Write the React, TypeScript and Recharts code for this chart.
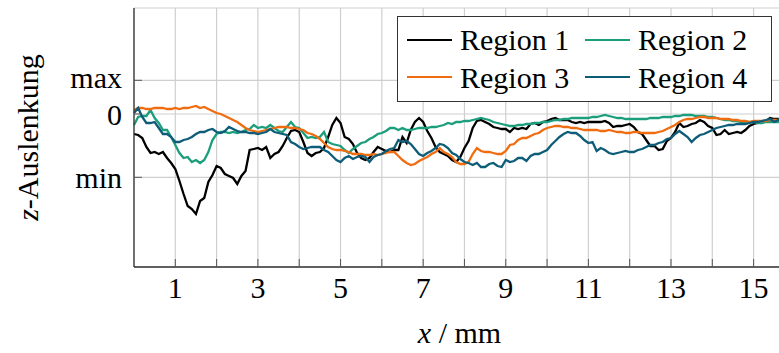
import React from "react";
import { LineChart, Line, XAxis, YAxis, CartesianGrid, Legend } from "recharts";

const FONT = "'Liberation Serif', 'Times New Roman', Tinos, 'DejaVu Serif', 'Noto Serif', FreeSerif, serif";

// x positions are sampled every 0.1 mm, starting at 0
const stepMm = 0.1;
const xTicks = [1, 2, 3, 4, 5, 6, 7, 8, 9, 10, 11, 12, 13, 14, 15];
const yTicks = [-6.33, 0, 3.37];

const region1 = [
  -2.0, -2.1, -2.4, -3.3, -3.9, -3.8, -4.0, -3.8, -4.4, -4.9,
  -5.5, -6.7, -8.0, -9.2, -9.5, -10.0, -8.7, -8.4, -6.8, -6.1,
  -5.2, -5.4, -6.0, -6.2, -6.4, -7.0, -6.2, -5.7, -3.6, -3.5,
  -3.4, -3.6, -3.3, -4.4, -4.0, -3.8, -3.2, -2.4, -1.7, -1.6,
  -1.8, -2.8, -3.9, -4.2, -3.9, -3.8, -3.4, -2.3, -1.1, -0.4,
  -0.9, -2.3, -2.5, -3.0, -3.9, -4.4, -4.6, -4.4, -3.8, -3.3,
  -3.5, -3.7, -3.8, -3.6, -3.6, -2.3, -2.9, -1.6, -0.8, -0.4,
  -0.8, -1.7, -2.4, -3.3, -3.8, -4.0, -4.2, -4.6, -4.8, -4.3,
  -3.4, -2.7, -1.4, -0.7, -0.6, -0.8, -1.0, -1.3, -1.4, -1.5,
  -1.5, -1.8, -1.4, -1.5, -1.4, -1.5, -1.0, -0.9, -1.1, -0.8,
  -0.7, -0.5, -0.4, -0.6, -0.6, -0.6, -0.8, -0.9, -0.8, -0.9,
  -0.8, -0.8, -0.8, -0.8, -0.7, -0.9, -1.3, -1.2, -1.2, -1.1,
  -1.0, -1.3, -1.8, -2.0, -2.6, -3.2, -3.2, -3.6, -3.5, -2.7,
  -2.4, -1.8, -0.9, -1.3, -1.2, -1.0, -0.9, -0.6, -0.8, -1.2,
  -1.4, -2.1, -2.0, -1.6, -2.0, -1.9, -1.8, -1.9, -1.6, -1.2,
  -1.0, -0.9, -0.8, -0.7, -0.4, -0.5, -0.5, -0.6,
];

const region2 = [
  -1.1, -0.3, -0.2, -0.2, 0.4, -0.4, -0.9, -1.6, -1.6, -2.3,
  -3.1, -3.9, -4.4, -4.3, -4.8, -4.6, -4.9, -4.6, -3.8, -2.6,
  -2.0, -1.8, -1.8, -1.9, -1.8, -1.9, -1.8, -1.6, -1.5, -1.1,
  -1.4, -1.3, -1.4, -1.1, -1.4, -1.7, -1.8, -1.3, -0.8, -1.3,
  -1.4, -1.9, -2.4, -2.3, -2.4, -2.3, -1.8, -2.8, -3.0, -3.1,
  -3.2, -3.6, -3.9, -3.5, -3.2, -2.9, -2.8, -2.5, -2.3, -2.0,
  -1.9, -1.7, -1.4, -1.4, -1.6, -1.4, -1.6, -1.6, -1.5, -1.4,
  -1.4, -1.4, -1.3, -1.3, -1.2, -1.1, -0.9, -1.0, -0.8, -0.8,
  -0.7, -0.7, -0.6, -0.5, -0.4, -0.5, -0.6, -0.8, -0.9, -1.0,
  -1.1, -1.2, -1.2, -1.1, -1.1, -1.0, -1.0, -0.9, -0.9, -0.8,
  -0.8, -0.7, -0.6, -0.6, -0.5, -0.5, -0.4, -0.4, -0.4, -0.4,
  -0.4, -0.3, -0.3, -0.2, -0.1, -0.2, -0.3, -0.4, -0.4, -0.5,
  -0.5, -0.5, -0.5, -0.5, -0.5, -0.4, -0.4, -0.4, -0.3, -0.3,
  -0.3, -0.2, -0.2, -0.1, -0.1, -0.1, -0.2, -0.2, -0.2, -0.3,
  -0.3, -0.4, -0.5, -0.6, -0.6, -0.7, -0.7, -0.8, -0.8, -0.8,
  -0.8, -0.9, -0.9, -0.8, -0.8, -0.8, -0.8, -0.8,
];

const region3 = [
  0.4, 0.6, 0.6, 0.5, 0.5, 0.6, 0.6, 0.6, 0.5, 0.5,
  0.6, 0.5, 0.6, 0.6, 0.7, 0.8, 0.6, 0.7, 0.5, 0.3,
  0.1, 0.0, -0.2, -0.4, -0.6, -0.8, -1.1, -1.4, -1.6, -1.7,
  -1.8, -1.7, -1.6, -1.5, -1.4, -1.3, -1.3, -1.3, -1.4, -1.4,
  -1.5, -1.6, -1.9, -2.0, -2.2, -2.5, -2.9, -3.3, -3.5, -3.6,
  -3.6, -3.7, -3.8, -4.0, -4.0, -4.0, -4.1, -4.1, -4.0, -4.1,
  -4.0, -3.9, -3.8, -3.8, -4.2, -4.6, -4.9, -5.1, -5.0, -4.7,
  -4.5, -4.3, -4.0, -3.8, -3.4, -3.8, -4.0, -4.3, -4.8, -5.0,
  -5.0, -4.8, -4.0, -3.4, -3.7, -3.8, -3.8, -3.9, -4.0, -4.0,
  -3.7, -3.1, -3.0, -2.6, -2.4, -2.4, -2.2, -2.0, -1.9, -1.6,
  -1.4, -1.3, -1.2, -1.2, -1.3, -1.3, -1.4, -1.4, -1.5, -1.6,
  -1.6, -1.6, -1.6, -1.7, -1.7, -1.6, -1.7, -1.8, -1.8, -1.9,
  -1.9, -1.8, -1.8, -1.9, -1.9, -1.9, -1.9, -1.8, -1.7, -1.5,
  -1.3, -1.1, -0.8, -0.6, -0.5, -0.5, -0.4, -0.3, -0.3, -0.4,
  -0.4, -0.4, -0.5, -0.5, -0.5, -0.6, -0.6, -0.7, -0.7, -0.8,
  -0.7, -0.7, -0.7, -0.7, -0.6, -0.6, -0.6, -0.6,
];

const region4 = [
  0.1, 0.6, -0.3, -0.9, -0.9, -0.8, -1.4, -2.0, -2.0, -2.3,
  -2.8, -2.8, -2.6, -2.5, -2.3, -2.0, -1.8, -1.8, -1.6, -1.5,
  -1.8, -1.9, -1.7, -1.3, -1.5, -1.7, -1.8, -1.8, -1.9, -1.9,
  -2.0, -1.9, -1.8, -1.5, -1.8, -1.9, -2.0, -2.1, -2.8, -3.0,
  -3.3, -3.5, -3.4, -3.3, -3.3, -3.3, -3.6, -3.8, -4.2, -4.6,
  -4.8, -4.4, -4.2, -4.5, -4.3, -4.2, -4.3, -4.8, -4.3, -4.1,
  -4.0, -3.7, -3.5, -3.4, -2.6, -2.8, -2.7, -3.0, -3.5, -4.0,
  -4.2, -3.9, -3.7, -3.4, -3.0, -3.1, -3.4, -3.9, -4.1, -4.5,
  -4.8, -4.9, -5.1, -4.9, -5.3, -5.3, -5.0, -4.9, -5.2, -5.3,
  -4.6, -4.8, -4.7, -4.4, -4.4, -4.7, -4.2, -4.0, -4.0, -3.8,
  -3.6, -3.1, -2.7, -2.3, -2.0, -1.8, -1.9, -1.9, -2.2, -2.6,
  -2.9, -2.8, -3.7, -3.4, -3.6, -3.9, -4.0, -3.9, -3.8, -3.7,
  -3.8, -3.8, -3.6, -3.5, -3.3, -3.1, -3.1, -2.9, -2.8, -2.5,
  -2.4, -2.0, -1.7, -2.0, -2.3, -2.8, -2.4, -2.1, -2.0, -1.8,
  -1.6, -1.4, -1.3, -1.2, -1.1, -1.1, -1.0, -1.0, -1.0, -0.9,
  -0.8, -0.8, -0.7, -0.6, -0.5, -0.8, -0.6, -0.6,
];

const seriesNames = ["Region 1", "Region 2", "Region 3", "Region 4"];
const seriesKeys = ["r1", "r2", "r3", "r4"];
const seriesColors = ["#000000", "#1b9e7c", "#ef6c11", "#0d5c78"];

const data = region1.map((_, i) => ({
  x: Math.round(i * stepMm * 10) / 10,
  r1: region1[i],
  r2: region2[i],
  r3: region3[i],
  r4: region4[i],
}));

const yLabel = (v: number) => (v < 0 ? "min" : v > 0 ? "max" : "0");

const textStyle = { fontFamily: FONT };

const BottomTick = (props: any) => {
  const { x, y, payload } = props;
  const v = payload.value;
  return (
    <g>
      <line x1={x} x2={x} y1={y} y2={y - 8} stroke="#555" strokeWidth={1} />
      {v % 2 === 1 && (
        <text x={x} y={y + 31} textAnchor="middle" style={textStyle} fontSize={30} fill="#000">
          {v}
        </text>
      )}
    </g>
  );
};

const TopTick = (props: any) => {
  const { x, y } = props;
  return <line x1={x} x2={x} y1={y} y2={y + 8} stroke="#555" strokeWidth={1} />;
};

const LeftTick = (props: any) => {
  const { x, y, payload } = props;
  const label = yLabel(payload.value);
  const dy = label === "max" ? 8 : 11;
  return (
    <g>
      <line x1={x} x2={x + 8} y1={y} y2={y} stroke="#555" strokeWidth={1} />
      <text x={x - 12} y={y + dy} textAnchor="end" style={textStyle} fontSize={30} fill="#000">
        {label}
      </text>
    </g>
  );
};

const XTitle = (props: any) => {
  const vb = props.viewBox || { x: 134, y: 267, width: 651, height: 86 };
  return (
    <text x={vb.x + vb.width / 2} y={vb.y + 76} textAnchor="middle" style={textStyle} fontSize={30} fill="#000">
      <tspan fontStyle="italic">x</tspan>
      <tspan> / mm</tspan>
    </text>
  );
};

const YTitle = (props: any) => {
  const vb = props.viewBox || { x: 0, y: 8, width: 134, height: 259 };
  const cx = 38;
  const cy = vb.y + vb.height / 2;
  return (
    <text
      x={cx}
      y={cy}
      transform={`rotate(-90 ${cx} ${cy})`}
      textAnchor="middle"
      style={textStyle}
      fontSize={30}
      fill="#000"
    >
      <tspan fontStyle="italic">z</tspan>
      <tspan>-Auslenkung</tspan>
    </text>
  );
};

const LegendBox = (props: any) => {
  const payload = props.payload || [];
  return (
    <div
      style={{
        boxSizing: "border-box",
        width: 375,
        height: 86,
        border: "1.3px solid #333",
        background: "#fff",
        padding: "4px 0 0 9px",
        display: "grid",
        gridTemplateColumns: "178px 180px",
        gridAutoRows: "37.5px",
      }}
    >
      {payload.map((p: any) => (
        <div key={p.value} style={{ display: "flex", alignItems: "center" }}>
          <span style={{ width: 45, height: 0, borderTop: `2.5px solid ${p.color}`, marginRight: 8 }} />
          <span style={{ fontFamily: FONT, fontSize: 30, lineHeight: "37px", color: "#000" }}>{p.value}</span>
        </div>
      ))}
    </div>
  );
};

const ChartZAuslenkung: React.FC = () => {
  return (
    <div
      style={{
        position: "absolute",
        left: 0,
        top: 0,
        width: 779,
        height: 353,
        overflow: "hidden",
        background: "#fff",
        fontFamily: FONT,
      }}
    >
      <LineChart width={800} height={353} data={data} margin={{ top: 8, right: 15, bottom: 0, left: 0 }}>
        <CartesianGrid stroke="#cfcfcf" strokeWidth={1.2} />
        <XAxis
          dataKey="x"
          type="number"
          domain={[0, 15.76]}
          ticks={xTicks}
          interval={0}
          height={86}
          tickSize={0}
          tickMargin={0}
          tickLine={false}
          axisLine={{ stroke: "#333", strokeWidth: 1.3 }}
          tick={<BottomTick />}
          label={<XTitle />}
        />
        <XAxis
          xAxisId="top"
          orientation="top"
          dataKey="x"
          type="number"
          domain={[0, 15.76]}
          ticks={xTicks}
          interval={0}
          height={0}
          tickSize={0}
          tickMargin={0}
          tickLine={false}
          axisLine={{ stroke: "#333", strokeWidth: 1.3 }}
          tick={<TopTick />}
        />
        <YAxis
          type="number"
          domain={[-15.3, 10.6]}
          ticks={yTicks}
          interval={0}
          width={134}
          tickSize={0}
          tickMargin={0}
          tickLine={false}
          axisLine={{ stroke: "#333", strokeWidth: 1.3 }}
          tick={<LeftTick />}
          label={<YTitle />}
        />
        <Legend
          layout="vertical"
          align="center"
          verticalAlign="middle"
          content={<LegendBox />}
          wrapperStyle={{ left: 397, top: 16, width: 375, height: 86 }}
        />
        {seriesKeys.map((k, i) => (
          <Line
            key={k}
            dataKey={k}
            name={seriesNames[i]}
            type="linear"
            stroke={seriesColors[i]}
            strokeWidth={2.3}
            dot={false}
            activeDot={false}
            isAnimationActive={false}
          />
        ))}
      </LineChart>
    </div>
  );
};

export default function App() {
  return <ChartZAuslenkung />;
}
